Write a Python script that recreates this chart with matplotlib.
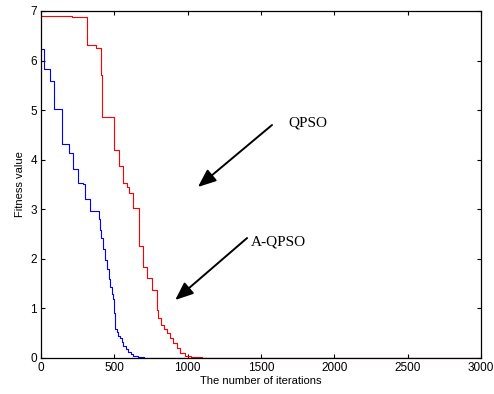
import matplotlib
matplotlib.use("Agg")
import matplotlib.pyplot as plt

# QPSO (red) step curve: iteration where value starts, value
qpso_iter = [0, 209, 316, 373, 411, 418, 500, 534, 557, 586, 602, 629, 666, 670, 697,
             723, 755, 789, 800, 820, 840, 857, 880, 902, 925, 948, 980, 1020, 1100, 3000]
qpso_val = [6.90, 6.88, 6.31, 6.26, 5.70, 4.87, 4.19, 3.88, 3.54, 3.44, 3.32, 3.02, 2.98, 2.25, 1.83,
            1.61, 1.37, 0.97, 0.80, 0.66, 0.58, 0.50, 0.40, 0.30, 0.20, 0.10, 0.05, 0.03, 0.01, 0.01]

# A-QPSO (blue) step curve
aqpso_iter = [0, 23, 61, 89, 143, 191, 220, 250, 289, 302, 334, 395, 405, 412, 420, 436,
              450, 462, 470, 484, 493, 500, 505, 515, 526, 539, 550, 561, 578, 595, 612, 629, 660, 700, 3000]
aqpso_val = [6.24, 5.82, 5.59, 5.02, 4.31, 4.14, 3.81, 3.54, 3.50, 3.21, 2.97, 2.80, 2.58, 2.42, 2.20, 1.98,
             1.80, 1.60, 1.44, 1.30, 1.20, 0.90, 0.58, 0.52, 0.45, 0.40, 0.33, 0.25, 0.18, 0.13, 0.08, 0.04, 0.02, 0.0, 0.0]

xticks = [0, 500, 1000, 1500, 2000, 2500, 3000]
yticks = [0, 1, 2, 3, 4, 5, 6, 7]

fig = plt.figure(figsize=(4.94, 3.94), dpi=100)
ax = fig.add_axes([41/494, 1 - 358/394, 440/494, 347/394])

ax.plot(qpso_iter, qpso_val, drawstyle="steps-post", color="red", lw=0.8)
ax.plot(aqpso_iter, aqpso_val, drawstyle="steps-post", color="blue", lw=0.8)

ax.set_xlim(0, 3000)
ax.set_ylim(0, 7)
ax.set_xticks(xticks)
ax.set_yticks(yticks)
ax.tick_params(direction="in", top=True, right=True, length=3, width=0.8,
               labelsize=8.5, pad=3)
for lab in ax.get_xticklabels() + ax.get_yticklabels():
    lab.set_fontfamily("Liberation Sans")
for s in ax.spines.values():
    s.set_linewidth(0.9)

ax.set_xlabel("The number of iterations", fontsize=8, family="Liberation Sans", labelpad=1)
ax.set_ylabel("Fitness value", fontsize=8, family="Liberation Sans", labelpad=4)

arrowprops = dict(arrowstyle="-|>,head_length=1.1,head_width=0.45", color="black", lw=1.4,
                  shrinkA=0, shrinkB=0)
ax.annotate("", xy=(1070, 3.45), xytext=(1575, 4.7), arrowprops=arrowprops)
ax.annotate("", xy=(915, 1.17), xytext=(1405, 2.42), arrowprops=arrowprops)

ax.text(1690, 4.75, "QPSO", family="Liberation Serif", fontsize=11, va="center", ha="left")
ax.text(1430, 2.35, "A-QPSO", family="Liberation Serif", fontsize=11, va="center", ha="left")

fig.savefig("out.png", dpi=100)
